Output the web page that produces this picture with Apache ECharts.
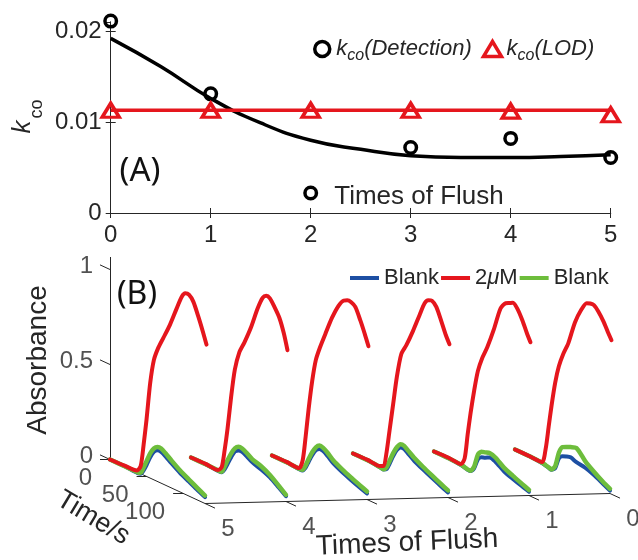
<!DOCTYPE html>
<html>
<head>
<meta charset="utf-8">
<script src="https://cdn.jsdelivr.net/npm/echarts@6/dist/echarts.min.js"></script>
<style>
  html, body { margin: 0; padding: 0; background: #fff; }
  #chart { width: 638px; height: 560px; }
</style>
</head>
<body>
<div id="chart"></div>
<script>
// ---------- Panel A: k_co versus number of flushes ----------
const flushCount = [0, 1, 2, 3, 4, 5];
const kcoDetection = [0.0211, 0.0131, 0.0022, 0.0072, 0.0082, 0.0061];
const kcoLOD = [0.0113, 0.0113, 0.0113, 0.0113, 0.0112, 0.0108];
const lodLevel = 0.0113;
const fitX = [0, 0.5, 1, 1.5, 2, 2.5, 3, 3.5, 4, 4.5, 5];
const fitY = [0.0192, 0.0161, 0.0126, 0.0099, 0.0080, 0.0070, 0.0063, 0.0061, 0.0061, 0.0062, 0.0064];

// ---------- Panel B: absorbance traces, one group per flush ----------
const flushOrder = [5, 4, 3, 2, 1, 0];
const flushTickLabels = ['5', '4', '3', '2', '1', '0'];
const timeTicks = [0, 50, 100];
const absTicks = [0, 0.5, 1];

// 2 uM sample trace (time in s)
const sampleTime = [0, 20, 37, 42, 46, 50, 55, 60, 66, 73, 82, 91, 98, 103, 108, 114, 121, 127, 132];
const sampleAbs = [
  [0, 0.003, 0.008, 0.04, 0.16, 0.30, 0.50, 0.63, 0.705, 0.77, 0.855, 0.955, 1.03, 1.058, 1.06, 1.034, 0.966, 0.90, 0.84],   // flush 5
  [0, 0.002, 0.0, 0.024, 0.12, 0.24, 0.42, 0.57, 0.67, 0.735, 0.83, 0.945, 1.015, 1.035, 1.03, 0.997, 0.95, 0.88, 0.80],     // flush 4
  [0, 0.002, 0.0, 0.05, 0.18, 0.33, 0.49, 0.61, 0.69, 0.77, 0.87, 0.95, 0.99, 1.0, 1.0, 0.985, 0.925, 0.865, 0.81],          // flush 3
  [0, 0.002, 0.0, 0.01, 0.09, 0.21, 0.36, 0.51, 0.64, 0.70, 0.79, 0.89, 0.965, 0.99, 0.996, 0.975, 0.91, 0.85, 0.81],        // flush 2
  [0, 0.003, 0.0, 0.04, 0.17, 0.29, 0.42, 0.53, 0.61, 0.68, 0.79, 0.915, 0.955, 0.965, 0.975, 0.955, 0.905, 0.85, 0.81],     // flush 1
  [0, 0.0, 0.0, 0.08, 0.20, 0.32, 0.45, 0.545, 0.62, 0.69, 0.815, 0.90, 0.945, 0.952, 0.952, 0.93, 0.89, 0.845, 0.81]        // flush 0
];

// blank traces (time in s)
const blankTime = [0, 20, 38, 42, 46, 50, 55, 60, 65, 70, 76, 84, 96, 108, 120, 130];
const blankBeforeAbs = [
  [0, 0, -0.004, 0.0, 0.025, 0.06, 0.11, 0.148, 0.165, 0.165, 0.152, 0.13, 0.10, 0.076, 0.052, 0.034],
  [0, 0, -0.005, -0.003, 0.02, 0.055, 0.10, 0.138, 0.153, 0.154, 0.143, 0.124, 0.108, 0.088, 0.056, 0.028],
  [0, 0, -0.006, -0.004, 0.018, 0.055, 0.10, 0.135, 0.15, 0.148, 0.133, 0.108, 0.084, 0.064, 0.046, 0.032],
  [0, 0, -0.008, -0.01, 0.0, 0.035, 0.085, 0.125, 0.148, 0.148, 0.132, 0.11, 0.086, 0.064, 0.043, 0.027],
  [0, 0, -0.006, -0.01, -0.014, -0.014, 0.01, 0.065, 0.085, 0.092, 0.104, 0.096, 0.066, 0.048, 0.032, 0.02],
  [0, 0, -0.006, -0.01, -0.014, -0.018, 0.0, 0.06, 0.08, 0.088, 0.094, 0.083, 0.075, 0.058, 0.035, 0.015]
];
const blankAfterAbs = [
  [0, 0, 0, 0.005, 0.04, 0.08, 0.13, 0.165, 0.182, 0.183, 0.168, 0.145, 0.113, 0.087, 0.062, 0.042],
  [0, 0, -0.002, 0.0, 0.035, 0.075, 0.12, 0.155, 0.172, 0.172, 0.16, 0.14, 0.125, 0.10, 0.065, 0.035],
  [0, 0, -0.003, 0.0, 0.03, 0.07, 0.115, 0.15, 0.168, 0.165, 0.15, 0.123, 0.098, 0.077, 0.058, 0.042],
  [0, 0, -0.006, -0.008, 0.01, 0.05, 0.10, 0.14, 0.165, 0.165, 0.148, 0.126, 0.10, 0.077, 0.055, 0.037],
  [0, 0, -0.004, -0.008, -0.012, -0.012, 0.02, 0.09, 0.115, 0.12, 0.127, 0.118, 0.085, 0.064, 0.045, 0.029],
  [0, 0, -0.004, -0.008, -0.012, -0.016, 0.01, 0.09, 0.128, 0.138, 0.148, 0.158, 0.11, 0.075, 0.045, 0.025]
];

// ---------- oblique projection for the waterfall view ----------
const T_END = 130;          // end of the time axis (s)
const A_TOP = 1.0658;       // top of the absorbance axis
const FLUSH_STEP = 110.84;  // horizontal shift per flush, in time units
const TIME_DROP = 0.0017816;// downward slant per second, in absorbance units
const FLUSH_RISE = 0.010526;// upward slant per flush step, in absorbance units
function proj(t, f, a) {
  const d = 5 - f;
  return [t + d * FLUSH_STEP, a - t * TIME_DROP + d * FLUSH_RISE];
}

const INK = '#262626';
const FONT = 'Liberation Sans, Arial, sans-serif';
const RED = '#e5161d', BLUE = '#1d4fa3', GREEN = '#6dbd3c';

// frame of the 3-D box
const frameSegs = [
  [proj(0, 5, 0), proj(0, 5, A_TOP)],
  [proj(0, 5, 0), proj(T_END, 5, 0)],
  [proj(T_END, 5, 0), proj(T_END, 0, 0)]
];
absTicks.forEach(a => frameSegs.push([proj(0, 5, a), proj(-13.7, 5, a)]));
timeTicks.forEach(t => frameSegs.push([proj(t, 5, 0), proj(t, 5.123, 0)]));
flushOrder.forEach(f => frameSegs.push([proj(T_END, f, 0), proj(T_END + 13.7, f, 0)]));

const seriesB = [];
function traceSeries(name, color, width, times, rows) {
  flushOrder.forEach((f, i) => {
    seriesB.push({
      type: 'line', name, xAxisIndex: 2, yAxisIndex: 2,
      data: times.map((t, j) => proj(t, f, rows[i][j])),
      symbol: 'none', showSymbol: false, smooth: 0.25, clip: false,
      lineStyle: { color, width, cap: 'round', join: 'round' },
      itemStyle: { color },
      z: 3
    });
  });
}
traceSeries('blankBefore', BLUE, 4, blankTime, blankBeforeAbs);
traceSeries('blankAfter', GREEN, 4.5, blankTime, blankAfterAbs);
traceSeries('sample', RED, 4, sampleTime, sampleAbs);

const labelBase = { show: true, color: INK, fontSize: 24, fontFamily: FONT, formatter: p => p.value[2] };
const hollow = c => ({ color: 'rgba(255,255,255,0)', borderColor: c, borderWidth: 3.5, opacity: 1 });

const option = {
  animation: false,
  backgroundColor: '#fff',
  grid: [
    { left: 110.7, top: 22, width: 500, height: 191 },
    { left: 110, top: 257, width: 511.56, height: 269 }
  ],
  xAxis: [
    { gridIndex: 0, type: 'value', min: 0, max: 5, interval: 1, position: 'bottom',
      axisLine: { lineStyle: { color: INK, width: 1 } },
      axisTick: { inside: true, length: 5, lineStyle: { color: INK } },
      axisLabel: { fontSize: 24, color: INK, fontFamily: FONT, margin: 10 },
      splitLine: { show: false } },
    { gridIndex: 0, type: 'value', min: 0, max: 5, interval: 1, position: 'top',
      axisLine: { lineStyle: { color: INK, width: 1 } },
      axisTick: { inside: true, length: 5, lineStyle: { color: INK } },
      axisLabel: { show: false }, splitLine: { show: false } },
    { gridIndex: 1, type: 'value', min: 0, max: 700, show: false }
  ],
  yAxis: [
    { gridIndex: 0, type: 'value', min: 0, max: 0.021, interval: 0.01, position: 'left',
      axisLine: { show: true, lineStyle: { color: INK, width: 1 } },
      axisTick: { show: true, inside: true, length: 5, lineStyle: { color: INK } },
      axisLabel: { fontSize: 24, color: INK, fontFamily: FONT, margin: 9,
        formatter: v => (v === 0 ? '0' : v.toFixed(2)) },
      splitLine: { show: false } },
    { gridIndex: 0, type: 'value', min: 0, max: 0.021, interval: 0.01, position: 'right',
      axisLine: { show: true, lineStyle: { color: INK, width: 1 } },
      axisTick: { show: true, inside: true, length: 5, lineStyle: { color: INK } },
      axisLabel: { show: false }, splitLine: { show: false } },
    { gridIndex: 1, type: 'value', min: -0.35, max: A_TOP, show: false }
  ],
  legend: [
    { left: 308, top: 33, orient: 'horizontal', itemWidth: 18, itemHeight: 15, itemGap: 10,
      selectedMode: false,
      data: [
        { name: 'kDetection', icon: 'circle', itemStyle: hollow('#000') },
        { name: 'kLOD', icon: 'triangle', itemStyle: hollow(RED) }
      ],
      formatter: n => n === 'kDetection' ? '{k|k}{s|co}{k|(Detection)}' : '{k|k}{s|co}{k|(LOD)}',
      textStyle: { color: INK, fontFamily: FONT,
        rich: {
          k: { fontSize: 22, fontStyle: 'italic', fontFamily: FONT, color: INK, lineHeight: 30, verticalAlign: 'middle' },
          s: { fontSize: 16, fontStyle: 'italic', fontFamily: FONT, color: INK, lineHeight: 12, verticalAlign: 'bottom' }
        } } },
    { left: 345, top: 262, orient: 'horizontal', itemWidth: 29, itemHeight: 4, itemGap: 2,
      selectedMode: false,
      data: [
        { name: 'blankBefore', icon: 'rect', itemStyle: { color: BLUE } },
        { name: 'sample', icon: 'rect', itemStyle: { color: RED } },
        { name: 'blankAfter', icon: 'rect', itemStyle: { color: GREEN } }
      ],
      formatter: n => n === 'sample' ? '{n|2}{mu|μ}{n|M}' : '{n|Blank}',
      textStyle: { color: INK, fontFamily: FONT,
        rich: {
          n: { fontSize: 22, fontFamily: FONT, color: INK, lineHeight: 26 },
          mu: { fontSize: 22, fontFamily: FONT, fontStyle: 'italic', color: INK, lineHeight: 26 }
        } } }
  ],
  series: [
    // panel A
    { type: 'line', name: 'fit', xAxisIndex: 0, yAxisIndex: 0,
      data: fitX.map((x, i) => [x, fitY[i]]), smooth: true, symbol: 'none',
      lineStyle: { color: '#000', width: 3.5 }, z: 2 },
    { type: 'line', name: 'lodLevel', xAxisIndex: 0, yAxisIndex: 0,
      data: [[flushCount[0], lodLevel], [flushCount[flushCount.length - 1], lodLevel]], symbol: 'none',
      lineStyle: { color: RED, width: 3.5 }, z: 2 },
    { type: 'scatter', name: 'kDetection', xAxisIndex: 0, yAxisIndex: 0, clip: false,
      data: flushCount.map((x, i) => [x, kcoDetection[i]]),
      symbol: 'circle', symbolSize: 11.5, itemStyle: hollow('#000'), z: 4 },
    { type: 'scatter', name: 'kLOD', xAxisIndex: 0, yAxisIndex: 0, clip: false,
      data: flushCount.map((x, i) => [x, kcoLOD[i]]),
      symbol: 'triangle', symbolSize: [17, 14], itemStyle: hollow(RED), z: 4 },
    // panel B frame and ticks
    { type: 'lines', coordinateSystem: 'cartesian2d', xAxisIndex: 2, yAxisIndex: 2, clip: false,
      silent: true, data: frameSegs.map(c => ({ coords: c })),
      lineStyle: { color: INK, width: 1, opacity: 1 }, z: 1 },
    { type: 'scatter', xAxisIndex: 2, yAxisIndex: 2, clip: false, symbolSize: 0, silent: true,
      data: absTicks.map(a => [...proj(0, 5, a), String(a)]),
      label: Object.assign({}, labelBase, { position: 'left', distance: 17, offset: [0, -3] }) },
    { type: 'scatter', xAxisIndex: 2, yAxisIndex: 2, clip: false, symbolSize: 0, silent: true,
      data: timeTicks.map(t => [...proj(t, 5, 0), String(t)]),
      label: Object.assign({}, labelBase, { position: 'left', distance: 18, offset: [0, 19] }) },
    { type: 'scatter', xAxisIndex: 2, yAxisIndex: 2, clip: false, symbolSize: 0, silent: true,
      data: flushOrder.map((f, i) => [...proj(T_END, f, 0), flushTickLabels[i]]),
      label: Object.assign({}, labelBase, { position: 'inside', offset: [23, 26] }) },
    ...seriesB
  ],
  graphic: [
    { type: 'text', x: 419, y: 197, style: { text: 'Times of Flush', font: '26px ' + FONT, fill: INK, align: 'center', verticalAlign: 'middle', textAlign: 'center', textVerticalAlign: 'middle' } },
    { type: 'text', x: 140, y: 172, style: { text: '(A)', font: '33px Noto Sans, Open Sans, sans-serif', fill: '#111', align: 'center', verticalAlign: 'middle', textAlign: 'center', textVerticalAlign: 'middle' } },
    { type: 'text', x: 22.5, y: 127, rotation: Math.PI / 2, style: { text: 'k', font: 'italic 26px ' + FONT, fill: INK, align: 'center', verticalAlign: 'middle', textAlign: 'center', textVerticalAlign: 'middle' } },
    { type: 'text', x: 37.5, y: 109, rotation: Math.PI / 2, style: { text: 'co', font: '18px ' + FONT, fill: INK, align: 'center', verticalAlign: 'middle', textAlign: 'center', textVerticalAlign: 'middle' } },
    { type: 'text', x: 137, y: 295, style: { text: '(B)', font: '32px Noto Sans, Open Sans, sans-serif', fill: '#111', align: 'center', verticalAlign: 'middle', textAlign: 'center', textVerticalAlign: 'middle' } },
    { type: 'text', x: 38, y: 360, rotation: Math.PI / 2, style: { text: 'Absorbance', font: '28px ' + FONT, fill: INK, align: 'center', verticalAlign: 'middle', textAlign: 'center', textVerticalAlign: 'middle' } },
    { type: 'text', x: 93, y: 518, rotation: -31 * Math.PI / 180, style: { text: 'Time/s', font: '27px ' + FONT, fill: INK, align: 'center', verticalAlign: 'middle', textAlign: 'center', textVerticalAlign: 'middle' } },
    { type: 'text', x: 407, y: 543, rotation: 2.5 * Math.PI / 180, style: { text: 'Times of Flush', font: '28px ' + FONT, fill: INK, align: 'center', verticalAlign: 'middle', textAlign: 'center', textVerticalAlign: 'middle' } }
  ]
};

const chart = echarts.init(document.getElementById('chart'), null, { renderer: 'canvas' });
chart.setOption(option);
</script>
</body>
</html>
